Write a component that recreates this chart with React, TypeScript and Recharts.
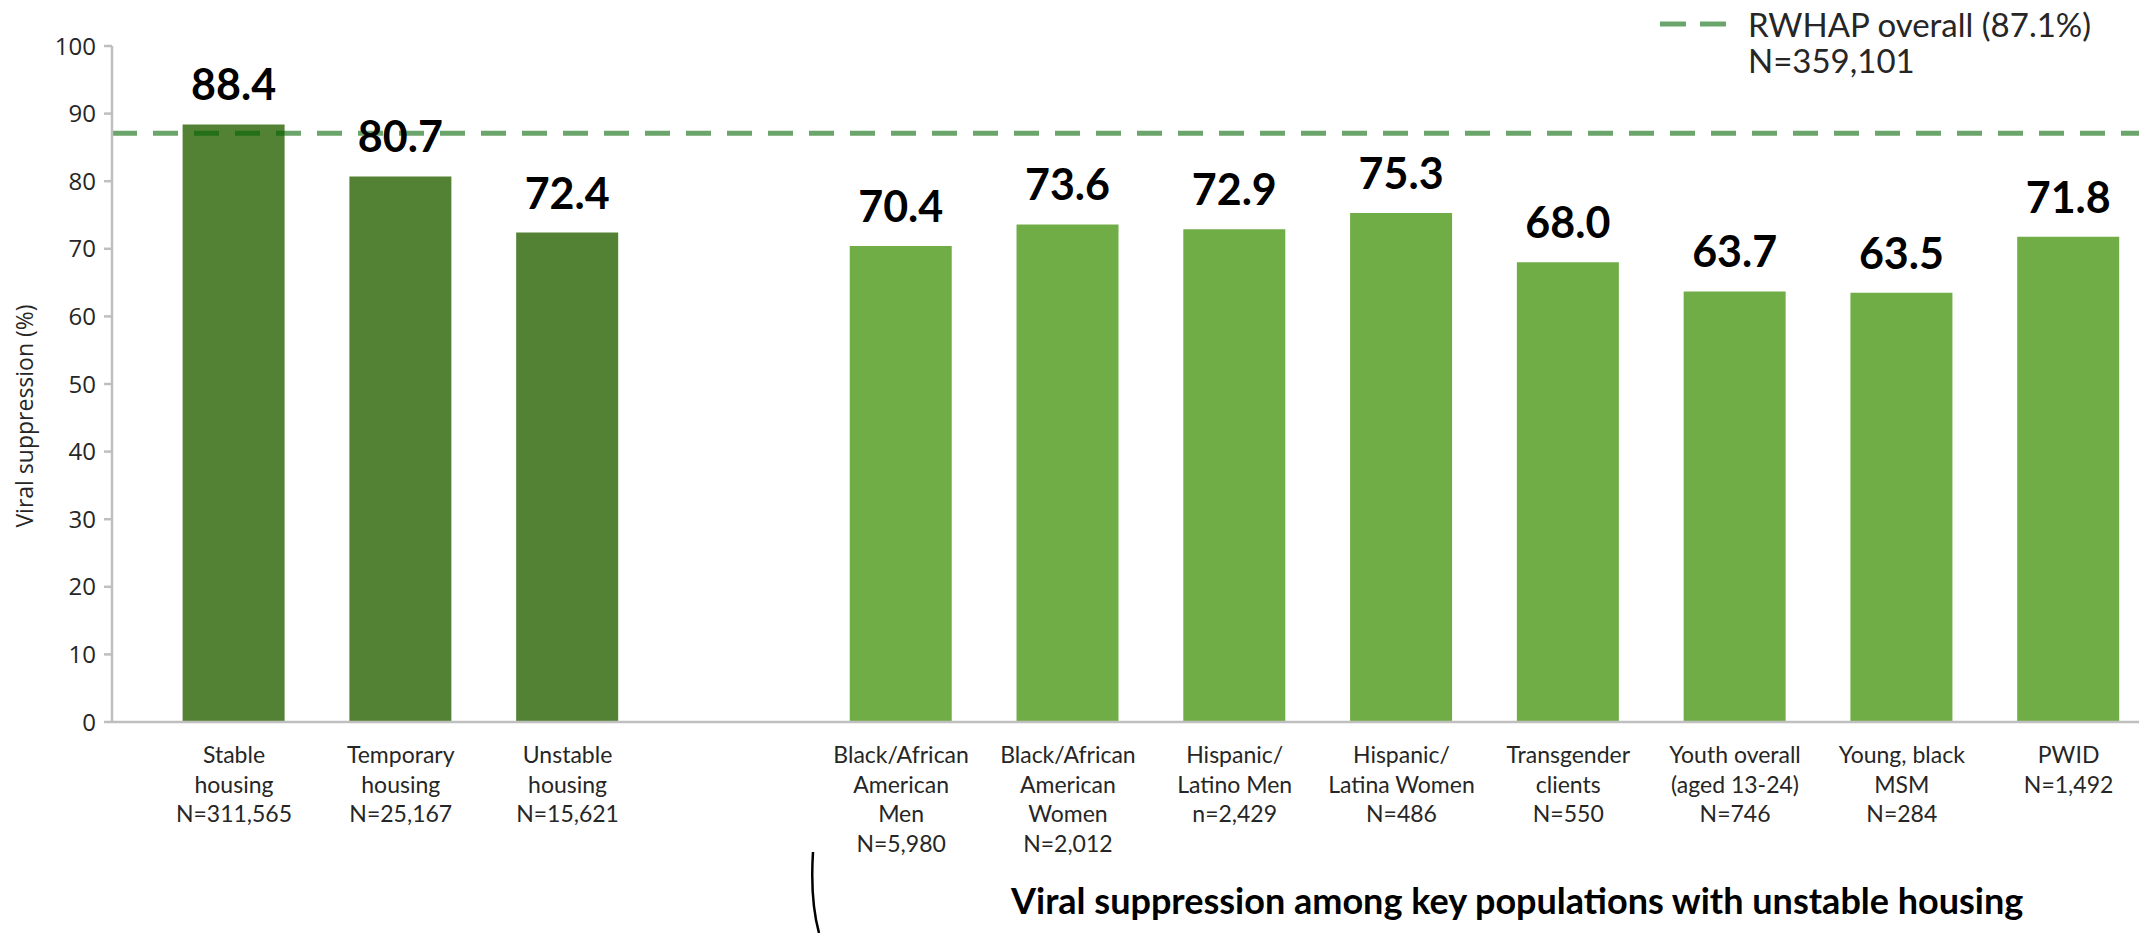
import { BarChart, Bar, XAxis, YAxis, ReferenceLine, Cell, LabelList } from 'recharts';

// categories (one empty slot separates the two groups)
const categories = [
  'Stable housing',
  'Temporary housing',
  'Unstable housing',
  '',
  'Black/African American Men',
  'Black/African American Women',
  'Hispanic/Latino Men',
  'Hispanic/Latina Women',
  'Transgender clients',
  'Youth overall',
  'Young, black MSM',
  'PWID',
];

const tickLines: string[][] = [
  ['Stable', 'housing', 'N=311,565'],
  ['Temporary', 'housing', 'N=25,167'],
  ['Unstable', 'housing', 'N=15,621'],
  [],
  ['Black/African', 'American', 'Men', 'N=5,980'],
  ['Black/African', 'American', 'Women', 'N=2,012'],
  ['Hispanic/', 'Latino Men', 'n=2,429'],
  ['Hispanic/', 'Latina Women', 'N=486'],
  ['Transgender', 'clients', 'N=550'],
  ['Youth overall', '(aged 13-24)', 'N=746'],
  ['Young, black', 'MSM', 'N=284'],
  ['PWID', 'N=1,492'],
];

const suppression: (number | null)[] = [88.4, 80.7, 72.4, null, 70.4, 73.6, 72.9, 75.3, 68.0, 63.7, 63.5, 71.8];

const groups = ['housing', 'housing', 'housing', 'gap', 'key', 'key', 'key', 'key', 'key', 'key', 'key', 'key'];

const yTicks = [0, 10, 20, 30, 40, 50, 60, 70, 80, 90, 100];

const overallRate = 87.1;
const legendLines = ['RWHAP overall (87.1%)', 'N=359,101'];
const subTitle = 'Viral suppression among key populations with unstable housing';

const GROUP_COLORS: Record<string, string> = {
  housing: '#548235',
  key: '#70AD47',
  gap: '#70AD47',
};

const AXIS_GRAY = '#bfbfbf';
const TEXT = '#262626';

const data = categories.map((name, i) => ({
  name,
  value: suppression[i],
  group: groups[i],
}));

const CategoryTick = (props: any) => {
  const { x, y, payload } = props;
  const idx = categories.indexOf(payload.value);
  const lines = tickLines[idx] ?? [];
  return (
    <text x={x} y={y} textAnchor="middle" fontFamily="Lato" fontSize={23} fill={TEXT}>
      {lines.map((line, i) => (
        <tspan key={i} x={x} dy={i === 0 ? 41 : 29.5}>
          {line}
        </tspan>
      ))}
    </text>
  );
};

const App = () => {
  return (
    <div style={{ position: 'absolute', left: 0, top: 0, width: 2139, height: 933, overflow: 'hidden', background: '#fff' }}>
      <BarChart
        width={2160}
        height={933}
        data={data}
        margin={{ top: 46, right: 8, bottom: 0, left: 0 }}
        barSize={102}
      >
        <XAxis
          dataKey="name"
          interval={0}
          height={211}
          tickLine={false}
          tickSize={0}
          tickMargin={0}
          axisLine={{ stroke: AXIS_GRAY, strokeWidth: 2.5 }}
          padding={{ left: 38.6, right: 0 }}
          tick={<CategoryTick />}
        />
        <YAxis
          width={112}
          domain={[0, 100]}
          ticks={yTicks}
          interval={0}
          tickSize={8}
          tickMargin={8}
          tickLine={{ stroke: AXIS_GRAY, strokeWidth: 2.5 }}
          axisLine={{ stroke: AXIS_GRAY, strokeWidth: 2.5 }}
          tick={{ fontFamily: 'Open Sans', fontSize: 24, fill: TEXT }}
        />
        <Bar dataKey="value" isAnimationActive={false}>
          {data.map((entry, index) => (
            <Cell key={`cell-${index}`} fill={GROUP_COLORS[entry.group]} />
          ))}
          <LabelList
            dataKey="value"
            position="top"
            offset={24}
            fontFamily="Lato"
            fontWeight={700}
            fontSize={43}
            fill="#000"
            formatter={(v: any) => (v == null ? '' : Number(v).toFixed(1))}
          />
        </Bar>
        <ReferenceLine
          y={overallRate}
          stroke="#006400"
          strokeOpacity={0.58}
          strokeWidth={5}
          strokeDasharray="25 16"
        />
      </BarChart>

      <svg
        width={2139}
        height={933}
        style={{ position: 'absolute', left: 0, top: 0, pointerEvents: 'none' }}
      >
        <text
          x={33}
          y={416}
          transform="rotate(-90 33 416)"
          textAnchor="middle"
          fontFamily="Open Sans"
          fontSize={23}
          fill={TEXT}
        >
          Viral suppression (%)
        </text>

        <line x1={1660} y1={24} x2={1686} y2={24} stroke="#006400" strokeOpacity={0.58} strokeWidth={5} />
        <line x1={1700} y1={24} x2={1726} y2={24} stroke="#006400" strokeOpacity={0.58} strokeWidth={5} />
        <text x={1748} y={37} fontFamily="Lato" fontSize={33} fill={TEXT}>
          {legendLines[0]}
        </text>
        <text x={1748} y={73} fontFamily="Lato" fontSize={33} fill={TEXT}>
          {legendLines[1]}
        </text>

        <text x={1011} y={914} fontFamily="Lato" fontWeight={700} fontSize={36} fill="#000">
          {subTitle}
        </text>

        <path d="M 813 852 Q 810 900 819 933" fill="none" stroke="#000" strokeWidth={2.5} />
      </svg>
    </div>
  );
};

export default App;
